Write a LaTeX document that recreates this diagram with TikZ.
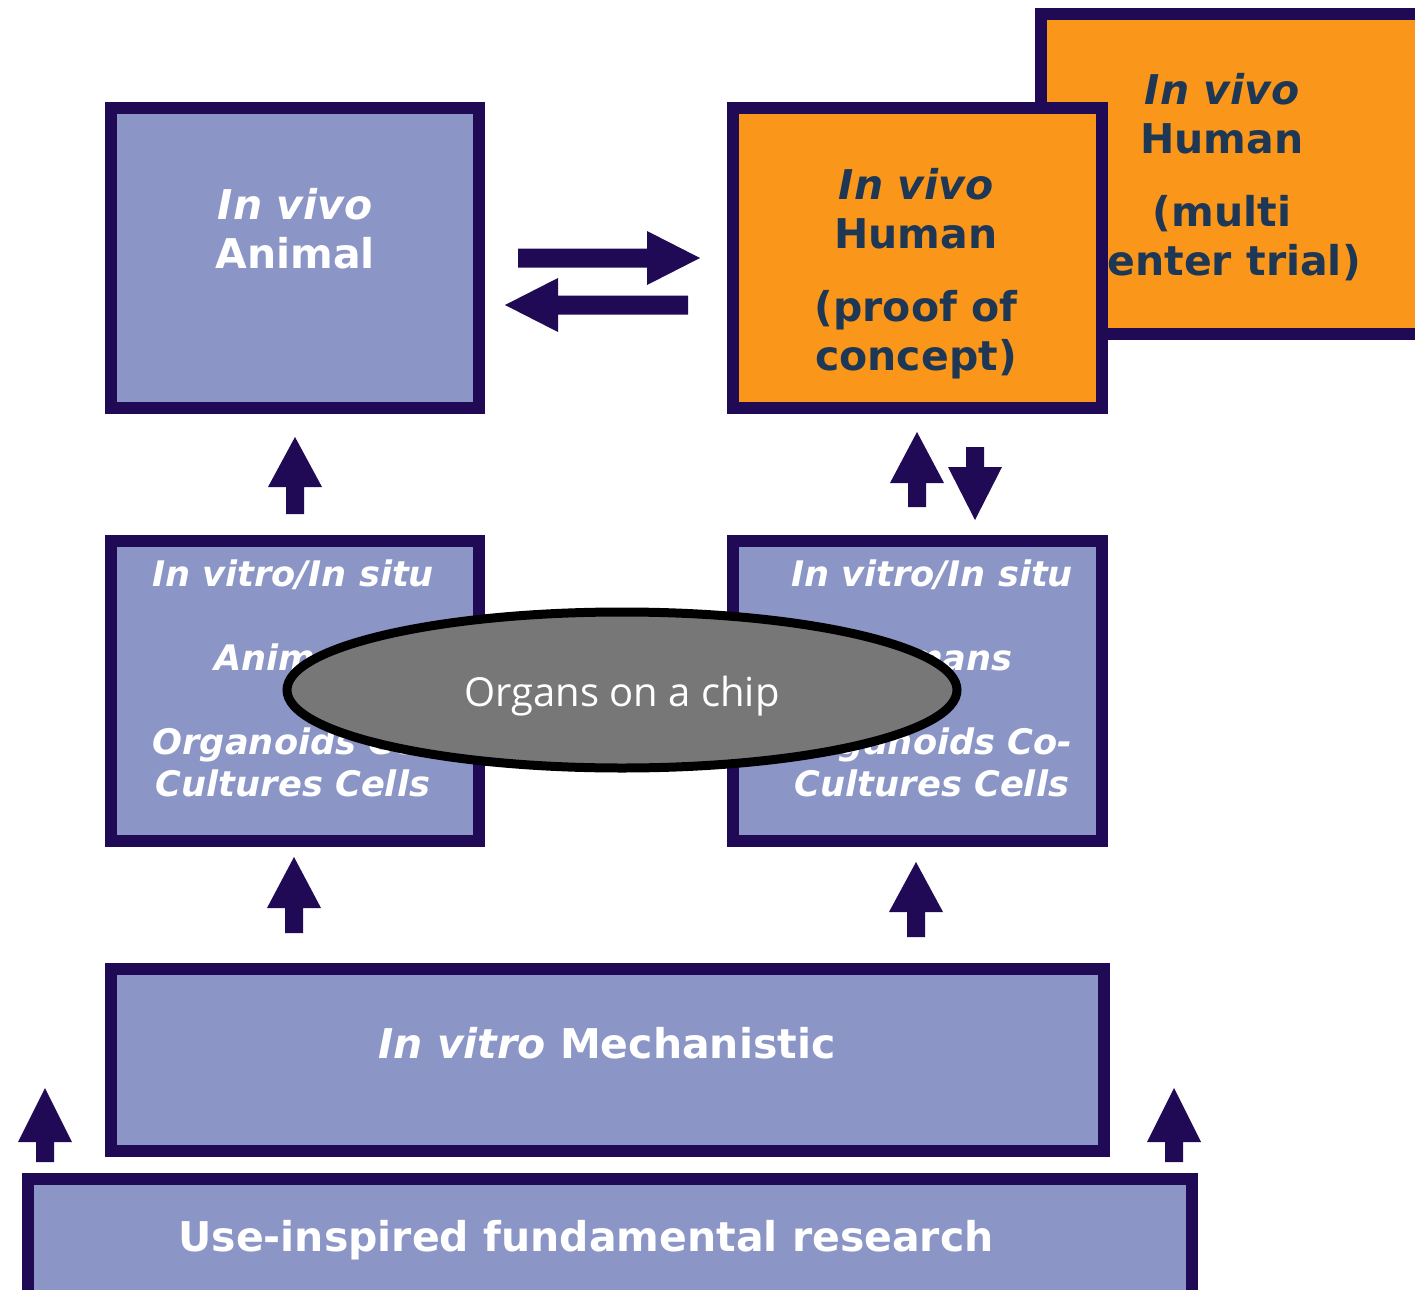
\documentclass[tikz,border=0pt]{standalone}
\usepackage{fontspec}
\setmainfont{DejaVu Sans}
\newfontfamily\chipfont{Open Sans}
\usetikzlibrary{shapes.geometric}
\definecolor{boxblue}{RGB}{139,150,198}
\definecolor{edge}{RGB}{32,9,85}
\definecolor{orng}{RGB}{250,150,25}
\definecolor{navy}{RGB}{30,55,85}
\definecolor{chipgray}{RGB}{119,119,119}
\newcommand\blkvert[4]{\fill[blkarrow] (#1,#2) -- (#1+27,#3) -- (#1+9,#3) -- (#1+9,#4) -- (#1-9,#4) -- (#1-9,#3) -- (#1-27,#3) -- cycle;}
\newcommand\blkhor[4]{\fill[blkarrow] (#2,#1) -- (#3,#1-27) -- (#3,#1-9.5) -- (#4,#1-9.5) -- (#4,#1+9.5) -- (#3,#1+9.5) -- (#3,#1+27) -- cycle;}
\begin{document}
\begin{tikzpicture}[x=0.5pt,y=-0.5pt,
  bluebox/.style={draw=edge,fill=boxblue,line width=6pt},
  orbox/.style={draw=edge,fill=orng,line width=6pt},
  bigtxt/.style={font=\bfseries\fontsize{20.5}{24.5}\selectfont,align=center,inner sep=0pt},
  midtxt/.style={font=\bfseries\itshape\fontsize{17.6}{21}\selectfont,text=white,align=center,inner sep=0pt},
  blkarrow/.style={fill=edge}]
\useasboundingbox (0,0) rectangle (1415,1290);
\clip (0,0) rectangle (1415,1290);
% back human box (multi center trial)
\draw[orbox] (1041,14) rectangle (1440,334);
\node[bigtxt,text=navy] (multitxt) at (1222,177) {\textit{In vivo}\\Human\\[12pt](multi\\center trial)};
% front human box
\draw[orbox] (733,108) rectangle (1102,408);
\node[bigtxt,text=navy] (prooftxt) at (916,274) {\textit{In vivo}\\Human\\[12pt](proof of\\concept)};
% animal box
\draw[bluebox] (111,108) rectangle (479,408);
\node[bigtxt,text=white] (animaltxt) at (295,229) {\textit{In vivo}\\Animal};
% middle boxes
\draw[bluebox] (111,541) rectangle (479,841);
\node[midtxt] (midLtxt) at (293,678) {In vitro/In situ\\[21pt]Animals\\[21pt]Organoids Co-\\Cultures Cells};
\draw[bluebox] (733,541) rectangle (1102,841);
\node[midtxt] (midRtxt) at (932,678) {In vitro/In situ\\[21pt]Humans\\[21pt]Organoids Co-\\Cultures Cells};
% organs on a chip
\node[ellipse,draw=black,fill=chipgray,line width=4.5pt,minimum width=335pt,minimum height=78pt,inner sep=0pt,
  text=white,font=\chipfont\fontsize{20}{24}\selectfont] (chip) at (622,690) {\raisebox{-8pt}[0pt][0pt]{Organs on a chip}};
% mechanistic box
\draw[bluebox] (111,969) rectangle (1104,1151);
\node[bigtxt,text=white] (mechtxt) at (607,1043) {\textit{In vitro} Mechanistic};
% bottom box
\draw[bluebox] (28,1179) rectangle (1192,1310);
\node[bigtxt,text=white] (fundtxt) at (586,1240) {Use-inspired fundamental research};
% block arrows
\blkhor{258}{700}{647}{518}
\blkhor{305}{505}{558}{688}
\blkvert{295}{437}{487}{514}
\blkvert{294}{857}{908}{933}
\blkvert{916}{862}{912}{937}
\blkvert{917}{432}{483}{507}
\blkvert{975}{520}{467}{447}
\blkvert{45}{1088}{1142}{1162}
\blkvert{1174}{1088}{1142}{1162}
\end{tikzpicture}
\end{document}
